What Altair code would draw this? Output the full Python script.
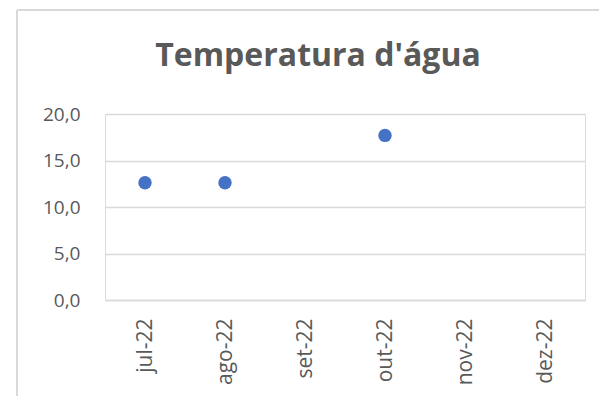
import altair as alt
import pandas as pd

months = ["jul-22", "ago-22", "set-22", "out-22", "nov-22", "dez-22"]
temps = [12.6, 12.6, None, 17.7, None, None]
y_ticks = [0, 5, 10, 15, 20]

df = pd.DataFrame({"mes": months, "temp": temps}).dropna()

FONT = "Open Sans"
GRAY_TXT = "#595959"
GRID = "#D9D9D9"

points = alt.Chart(df).mark_circle(size=180, color="#4472C4", opacity=1).encode(
    x=alt.X(
        "mes:N",
        sort=months,
        scale=alt.Scale(domain=months, paddingInner=0, paddingOuter=0),
        axis=alt.Axis(
            title=None,
            labelAngle=-90,
            labelFont=FONT,
            labelFontSize=21,
            labelColor=GRAY_TXT,
            labelPadding=18,
            ticks=False,
            tickSize=0,
            domainColor=GRID,
            domainWidth=1.5,
            grid=False,
        ),
    ),
    y=alt.Y(
        "temp:Q",
        scale=alt.Scale(domain=[0, 20], nice=False),
        axis=alt.Axis(
            title=None,
            values=y_ticks,
            labelExpr="replace(format(datum.value, '.1f'), '.', ',')",
            labelFont=FONT,
            labelFontSize=19,
            labelColor=GRAY_TXT,
            labelPadding=25,
            ticks=False,
            tickSize=0,
            domain=False,
            grid=True,
            gridColor=GRID,
            gridWidth=1.5,
        ),
    ),
)

frame_left = alt.Chart(df).mark_rule(color=GRID, strokeWidth=2).encode(
    x=alt.value(-88), y=alt.value(-104), y2=alt.value(282)
)
frame_top = alt.Chart(df).mark_rule(color=GRID, strokeWidth=2).encode(
    x=alt.value(-88), x2=alt.value(502), y=alt.value(-104)
)

chart = (
    alt.layer(frame_left, frame_top, points)
    .properties(
        width=480,
        height=186,
        padding={"left": 97, "top": 106, "right": 14, "bottom": 96},
        autosize=alt.AutoSizeParams(type="none"),
        title=alt.TitleParams(
            "Temperatura d'água",
            font=FONT,
            fontSize=32,
            fontWeight="bold",
            color=GRAY_TXT,
            anchor="middle",
            frame="group",
            baseline="alphabetic",
            dx=-27,
            offset=-89,
        ),
    )
    .configure_view(stroke=None)
    .configure(background="white")
)

chart.save("out.html", embed_options={"renderer": "svg", "actions": False})
